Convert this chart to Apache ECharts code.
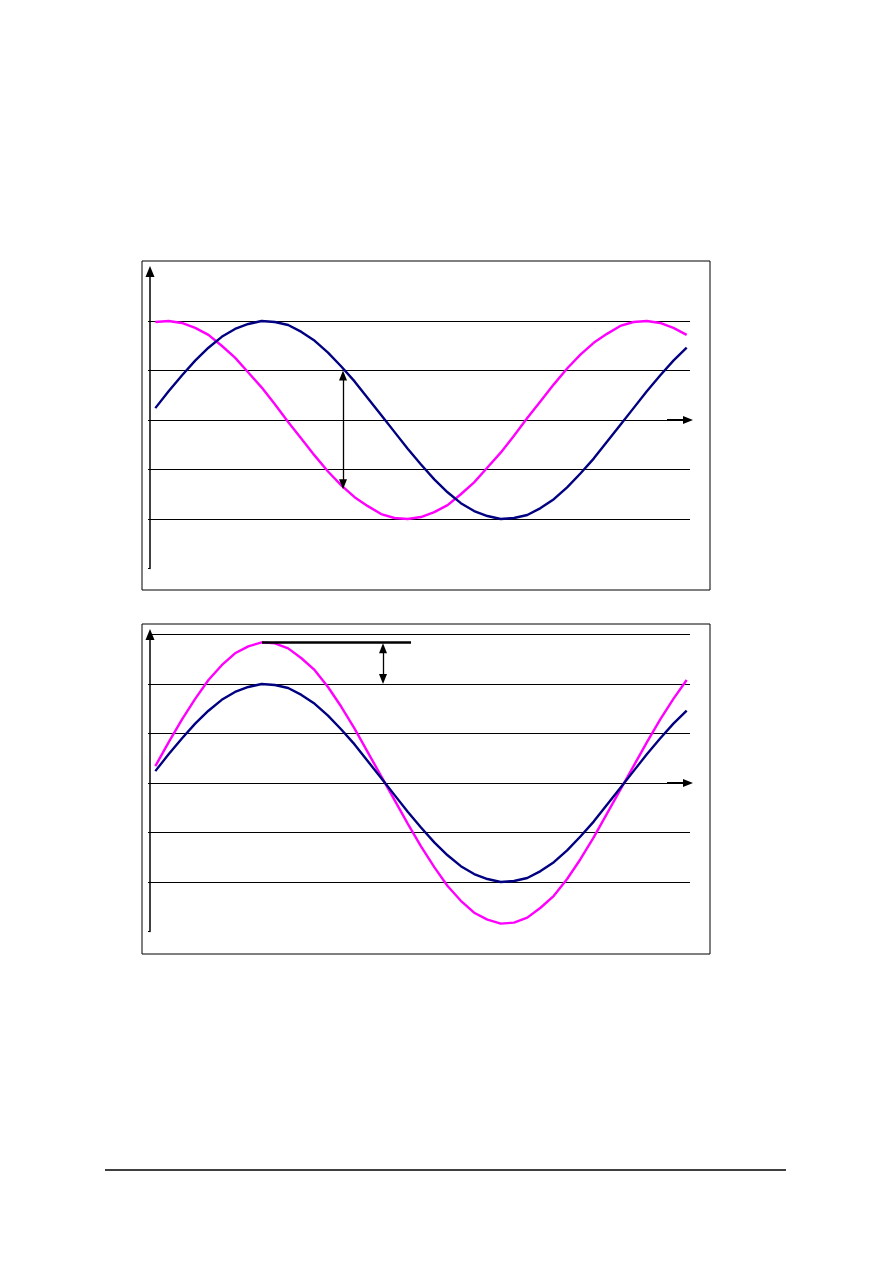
<!DOCTYPE html>
<html>
<head>
<meta charset="utf-8">
<script src="https://cdn.jsdelivr.net/npm/echarts@6/dist/echarts.min.js"></script>
<style>
html,body{margin:0;padding:0;background:#fff;}
#c{width:893px;height:1263px;}
</style>
</head>
<body>
<div id="c"></div>
<script>
// Chart 1: two equal-amplitude waves shifted in phase
const blue1 = [0.12,0.29,0.45,0.60,0.73,0.84,0.92,0.97,1.00,0.99,0.96,0.89,0.80,0.68,0.54,0.39,0.22,0.05,-0.12,-0.29,-0.45,-0.60,-0.73,-0.84,-0.92,-0.97,-1.00,-0.99,-0.96,-0.89,-0.80,-0.68,-0.54,-0.39,-0.22,-0.05,0.12,0.29,0.45,0.60,0.73];
const pink1 = [0.99,1.00,0.98,0.93,0.86,0.75,0.63,0.48,0.33,0.16,-0.02,-0.19,-0.36,-0.52,-0.66,-0.78,-0.87,-0.95,-0.99,-1.00,-0.98,-0.93,-0.86,-0.75,-0.63,-0.48,-0.33,-0.16,0.02,0.19,0.36,0.52,0.66,0.78,0.87,0.95,0.99,1.00,0.98,0.93,0.86];
// Chart 2: two in-phase waves with different amplitudes
const blue2 = [0.12,0.29,0.45,0.60,0.73,0.84,0.92,0.97,1.00,0.99,0.96,0.89,0.80,0.68,0.54,0.39,0.22,0.05,-0.12,-0.29,-0.45,-0.60,-0.73,-0.84,-0.92,-0.97,-1.00,-0.99,-0.96,-0.89,-0.80,-0.68,-0.54,-0.39,-0.22,-0.05,0.12,0.29,0.45,0.60,0.73];
const pink2 = [0.17,0.41,0.64,0.85,1.04,1.19,1.31,1.38,1.42,1.41,1.36,1.26,1.14,0.97,0.77,0.55,0.31,0.07,-0.17,-0.41,-0.64,-0.85,-1.04,-1.19,-1.31,-1.38,-1.42,-1.41,-1.36,-1.26,-1.14,-0.97,-0.77,-0.55,-0.31,-0.07,0.17,0.41,0.64,0.85,1.04];
// Annotation anchors (data space; arrowhead centres)
const arrow1 = {x: 14.13, from: 0.45, to: -0.65};
const peakLine2 = {x0: 8.03, x1: 19.25, y: 1.42};
const arrow2 = {x: 17.14, from: 1.36, to: 1.05};
const xArrow = {x0: 38.52, x1: 40.1, y: 0};

const BLUE = '#000080', PINK = '#ff00ff';
const toPairs = arr => arr.map((v, i) => [i, v]);

function xAx(gi) {
  return {gridIndex: gi, type: 'value', min: -0.4, max: 40.25,
    axisLine: {show: false}, axisTick: {show: false}, axisLabel: {show: false}, splitLine: {show: false}};
}
function yAx(gi, showMax) {
  return {gridIndex: gi, type: 'value', min: -1.5, max: 1.5, interval: 0.5,
    axisLine: {show: true, onZero: false, symbol: ['none', 'triangle'], symbolSize: [9, 11], lineStyle: {color: '#000', width: 1.5}},
    axisTick: {show: true, length: 2, lineStyle: {color: '#000'}},
    axisLabel: {show: false},
    splitLine: {show: true, showMinLine: false, showMaxLine: showMax, lineStyle: {color: '#000', width: 1}}};
}
function line(gi, data, color, z) {
  return {type: 'line', xAxisIndex: gi, yAxisIndex: gi, data: toPairs(data), symbol: 'none',
    smooth: false, clip: false, z: z, lineStyle: {color: color, width: 2.4}, silent: true};
}
function seg(p0, p1, w, s0, s1) {
  return [{coord: p0, lineStyle: {color: '#000', width: w, type: 'solid'}, symbol: s0},
          {coord: p1, symbol: s1}];
}
function marks(items) {
  return {silent: true, symbolSize: [8, 10], label: {show: false}, emphasis: {disabled: true},
    animation: false, data: items};
}

const s1p = line(0, pink1, PINK, 3);
const s1b = line(0, blue1, BLUE, 4);
s1b.markLine = marks([
  seg([xArrow.x0, xArrow.y], [xArrow.x1, xArrow.y], 2, 'none', 'triangle'),
  seg([arrow1.x, arrow1.from], [arrow1.x, arrow1.to], 1.3, 'triangle', 'triangle')
]);

const s2p = line(1, pink2, PINK, 3);
const s2b = line(1, blue2, BLUE, 4);
s2b.markLine = marks([
  seg([xArrow.x0, xArrow.y], [xArrow.x1, xArrow.y], 2, 'none', 'triangle'),
  seg([peakLine2.x0, peakLine2.y], [peakLine2.x1, peakLine2.y], 2.5, 'none', 'none'),
  seg([arrow2.x, arrow2.from], [arrow2.x, arrow2.to], 1.3, 'triangle', 'triangle')
]);

const chart = echarts.init(document.getElementById('c'), null, {renderer: 'canvas'});
chart.setOption({
  animation: false,
  backgroundColor: '#fff',
  grid: [
    {left: 150, top: 271.5, width: 540, height: 297},
    {left: 150, top: 634.5, width: 540, height: 297}
  ],
  xAxis: [xAx(0), xAx(1)],
  yAxis: [yAx(0, false), yAx(1, true)],
  series: [s1p, s1b, s2p, s2b],
  graphic: [
    {type: 'rect', shape: {x: 142, y: 261, width: 568, height: 329}, style: {fill: 'none', stroke: '#000', lineWidth: 1}, silent: true},
    {type: 'rect', shape: {x: 142, y: 624, width: 568, height: 330}, style: {fill: 'none', stroke: '#000', lineWidth: 1}, silent: true},
    {type: 'line', shape: {x1: 105, y1: 1170, x2: 786, y2: 1170}, style: {stroke: '#000', lineWidth: 1.5}, silent: true}
  ]
});
</script>
</body>
</html>
